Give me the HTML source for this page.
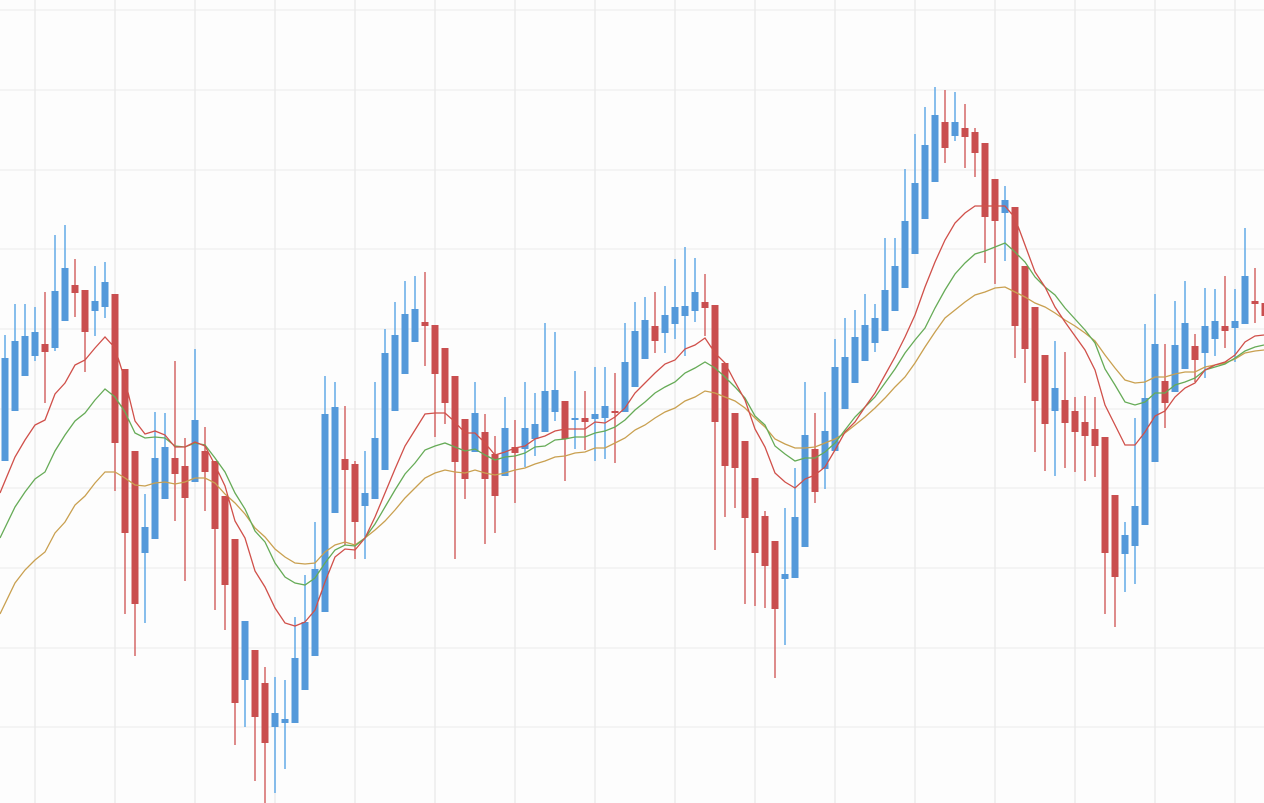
<!DOCTYPE html>
<html><head><meta charset="utf-8"><style>
html,body{margin:0;padding:0;background:#fdfdfd;}
svg{display:block;}
</style></head><body>
<svg id="s" width="1264" height="803" xmlns="http://www.w3.org/2000/svg"></svg>
<script>
var C=`5 b 358 461 335 461
15 b 341 411 304 411
25 b 336 376 304 376
35 b 332 356 307 361
45 r 344 352 292 403
55 b 291 348 235 351
65 b 268 321 225 321
75 r 285 293 259 317
85 r 290 332 290 372
95 b 301 311 266 336
105 b 282 307 262 318
115 r 294 443 294 491
125 r 369 533 369 614
135 r 451 604 451 656
145 b 527 553 494 623
155 b 458 539 412 539
165 b 447 499 413 499
175 r 458 474 361 521
185 r 466 498 438 581
195 b 420 482 349 482
205 r 451 472 427 511
215 r 461 529 461 610
225 r 496 585 496 630
235 r 539 703 539 745
245 b 621 680 621 727
255 r 650 717 650 781
265 r 683 743 667 803
275 b 713 727 677 793
285 b 719 723 680 769
295 b 658 723 617 723
305 b 622 690 575 690
315 b 569 656 522 656
325 b 414 612 376 612
335 b 407 513 382 513
345 r 459 470 406 545
355 r 464 522 461 559
365 b 493 506 451 559
375 b 438 499 382 499
385 b 353 470 329 470
395 b 335 411 302 411
405 b 314 374 281 374
415 b 309 342 276 342
425 r 322 326 272 366
435 r 325 374 325 437
445 r 348 403 348 424
455 r 376 462 376 559
465 r 419 479 419 499
475 b 413 452 382 452
485 r 432 479 414 544
495 r 454 496 436 533
505 b 428 476 397 476
515 r 447 453 420 503
525 b 428 449 382 467
535 b 424 439 393 456
545 b 391 432 323 432
555 b 390 412 332 421
565 r 401 439 401 481
575 b 418 420 371 449
585 r 418 422 391 450
595 b 414 419 367 461
605 b 406 418 367 459
615 r 411 413 373 463
625 b 362 412 323 412
635 b 331 387 302 387
645 b 320 359 297 359
655 r 326 341 292 353
665 b 315 333 286 353
675 b 307 324 259 339
685 b 306 316 247 356
695 b 292 311 258 322
705 r 302 308 274 336
715 r 305 422 305 550
725 r 363 466 363 517
735 r 413 468 413 508
745 r 441 518 441 604
755 r 478 553 478 606
765 r 516 566 511 608
775 r 541 609 541 678
785 b 574 579 508 645
795 b 517 578 468 578
805 b 435 547 382 547
815 r 449 492 413 503
825 b 431 469 392 489
835 b 367 451 339 451
845 b 357 409 318 409
855 b 337 383 310 383
865 b 325 361 294 361
875 b 318 343 304 352
885 b 290 331 238 331
895 b 266 311 238 311
905 b 221 288 169 288
915 b 183 254 134 254
925 b 145 219 107 219
935 b 115 182 87 182
945 r 122 148 90 163
955 b 122 136 92 141
965 r 128 137 104 168
975 r 132 153 128 177
985 r 143 217 143 263
995 r 179 221 179 284
1005 b 200 213 186 261
1015 r 207 326 207 358
1025 r 266 349 266 383
1035 r 307 401 307 452
1045 r 355 424 355 471
1055 b 388 411 341 476
1065 r 400 423 352 468
1075 r 411 432 397 472
1085 r 422 436 396 481
1095 r 429 446 397 477
1105 r 437 553 437 614
1115 r 495 577 495 627
1125 b 535 554 522 592
1135 b 506 546 418 584
1145 b 398 525 324 525
1155 b 344 462 294 462
1165 r 381 403 344 428
1175 b 345 392 301 392
1185 b 323 369 281 369
1195 r 346 360 334 382
1205 b 326 353 288 378
1215 b 321 339 289 356
1225 r 326 331 276 348
1235 b 321 328 289 362
1245 b 276 324 228 324
1255 r 301 304 268 323
1265 r 303 316 303 316`;
var R="0,493 15,457 25,440 35,425 45,420 55,394 65,383 75,365 85,360 95,348 105,337 115,348 125,380 135,421 145,434 155,431 165,435 175,447 185,447 195,442 205,446 215,465 225,486 235,521 245,538 255,571 265,587 275,608 285,623 295,626 305,622 315,610 325,582 335,557 345,549 355,550 365,538 375,517 385,493 395,469 405,446 415,430 425,414 435,413 445,413 455,422 465,433 475,433 485,443 495,455 505,452 515,448 525,446 535,439 545,436 555,431 565,429 575,429 585,429 595,422 605,423 615,417 625,408 635,393 645,383 655,373 665,364 675,360 685,349 695,345 705,338 715,353 725,363 735,382 745,400 755,429 765,447 775,473 785,482 795,488 805,479 815,475 825,467 835,450 845,432 855,422 865,407 875,393 885,375 895,357 905,337 915,315 925,287 935,262 945,240 955,223 965,213 975,206 985,206 995,206 1005,206 1015,218 1025,245 1035,272 1045,287 1055,307 1065,322 1075,336 1085,350 1095,370 1105,405 1115,425 1125,445 1135,445 1145,432 1155,416 1165,411 1175,397 1185,388 1195,383 1205,370 1215,365 1225,362 1235,355 1245,342 1255,336 1264,335";
var G="0,538 15,507 25,492 35,479 45,472 55,451 65,435 75,421 85,413 95,400 105,389 115,397 125,412 135,433 145,438 155,437 165,438 175,446 185,447 195,443 205,445 215,458 225,472 235,493 245,509 255,531 265,542 275,563 285,577 295,583 305,585 315,578 325,563 335,550 345,545 355,546 365,538 375,524 385,507 395,490 405,474 415,463 425,450 435,446 445,443 455,447 465,451 475,449 485,455 495,460 505,457 515,456 525,453 535,447 545,446 555,440 565,439 575,437 585,437 595,433 605,431 615,427 625,420 635,410 645,402 655,393 665,387 675,382 685,373 695,368 705,362 715,368 725,377 735,387 745,398 755,416 765,425 775,446 785,454 795,461 805,458 815,458 825,452 835,443 845,430 855,417 865,407 875,397 885,383 895,369 905,353 915,340 925,328 935,308 945,290 955,274 965,263 975,254 985,251 995,247 1005,243 1015,252 1025,262 1035,277 1045,287 1055,295 1065,308 1075,319 1085,330 1095,343 1105,369 1115,385 1125,402 1135,405 1145,402 1155,393 1165,393 1175,385 1185,382 1195,378 1205,370 1215,367 1225,364 1235,358 1245,351 1255,347 1264,345";
var Y="0,614 15,583 25,570 35,560 45,552 55,533 65,522 75,505 85,496 95,483 105,472 115,472 125,478 135,485 145,486 155,483 165,482 175,484 185,482 195,478 205,478 215,483 225,494 235,503 245,514 255,528 265,537 275,549 285,557 295,563 305,564 315,563 325,552 335,545 345,542 355,545 365,538 375,530 385,521 395,510 405,498 415,488 425,478 435,473 445,470 455,472 465,473 475,470 485,473 495,475 505,473 515,470 525,468 535,464 545,461 555,457 565,456 575,453 585,452 595,448 605,448 615,443 625,438 635,430 645,425 655,418 665,412 675,408 685,401 695,397 705,391 715,393 725,397 735,401 745,408 755,418 765,427 775,439 785,444 795,448 805,448 815,447 825,443 835,439 845,433 855,425 865,417 875,408 885,398 895,387 905,377 915,363 925,347 935,332 945,318 955,310 965,302 975,295 985,292 995,288 1005,287 1015,292 1025,297 1035,303 1045,307 1055,313 1065,320 1075,326 1085,333 1095,341 1105,355 1115,368 1125,380 1135,383 1145,382 1155,377 1165,377 1175,374 1185,372 1195,372 1205,367 1215,365 1225,363 1235,359 1245,353 1255,351 1264,350";
var h='';
[10,90,170,249,329,409,488,568,648,727].forEach(function(y){h+='<line x1="0" x2="1264" y1="'+y+'" y2="'+y+'" stroke="#ebebeb" stroke-width="1"/>';});
for(var x=35;x<1264;x+=80)h+='<line y1="0" y2="803" x1="'+x+'" x2="'+x+'" stroke="#ebebeb" stroke-width="1.5"/>';
C.split('\n').forEach(function(l){var p=l.trim().split(/\s+/);var x=+p[0],b=p[1]=='b',bt=+p[2],bb=+p[3],wt=+p[4],wb=+p[5];
var wc=b?'#6aaee8':'#d6706f',bc=b?'#5499da':'#c94e4f';
h+='<line x1="'+x+'" x2="'+x+'" y1="'+Math.min(wt,bt)+'" y2="'+Math.max(wb,bb)+'" stroke="'+wc+'" stroke-width="1.6"/>';
h+='<rect x="'+(x-3.5)+'" y="'+bt+'" width="7" height="'+Math.max(bb-bt,2)+'" fill="'+bc+'"/>';});
h+='<polyline points="'+Y+'" fill="none" stroke="#c9a050" stroke-width="1.3"/>';
h+='<polyline points="'+G+'" fill="none" stroke="#66ab57" stroke-width="1.3"/>';
h+='<polyline points="'+R+'" fill="none" stroke="#d0504a" stroke-width="1.3"/>';
document.getElementById('s').innerHTML=h;
</script>
</body></html>
